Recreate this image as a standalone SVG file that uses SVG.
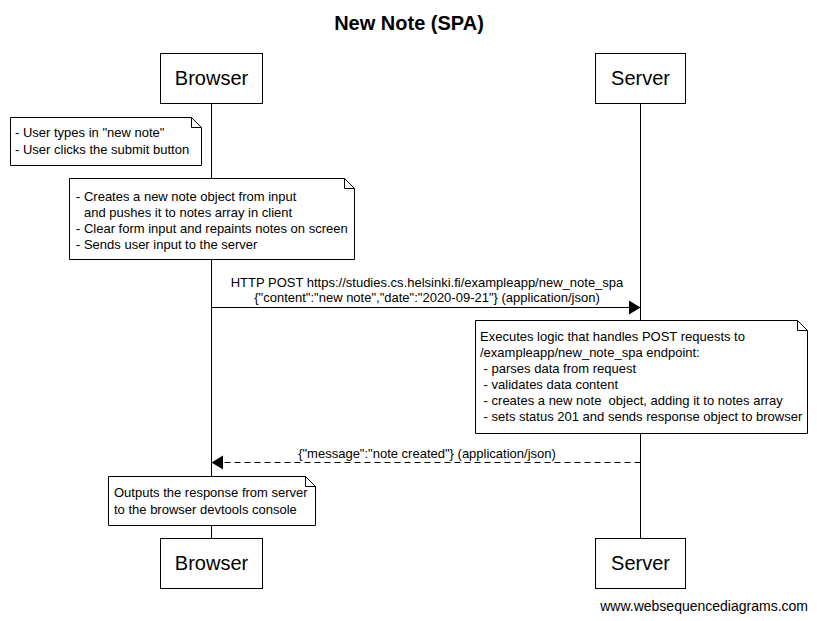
<svg xmlns="http://www.w3.org/2000/svg" width="817" height="621" viewBox="0 0 817 621">
<style>
text{font-family:"Liberation Sans",Arial,sans-serif;fill:#000}
.t{font-size:20px;font-weight:bold;text-anchor:middle}
.p{font-size:20px;text-anchor:middle}
.n{font-size:13px}
.m{font-size:13px;text-anchor:middle}
.box{fill:#fff;stroke:#000;stroke-width:1}
.life{stroke:#000;stroke-width:1}
.note{fill:#fff;stroke:#000;stroke-width:1}
.ear{fill:none;stroke:#000;stroke-width:1}
.msg{stroke:#000;stroke-width:1;fill:none}
.dash{stroke-dasharray:6,4}
</style>
<rect width="817" height="621" fill="#fff"/>
<text class="t" x="409" y="30">New Note (SPA)</text>
<g id="lifelines">
<line class="life" x1="211.5" y1="103" x2="211.5" y2="538"/>
<line class="life" x1="640.5" y1="103" x2="640.5" y2="538"/>
</g>
<g id="browser-top"><rect class="box" x="160.5" y="53.5" width="102" height="50"/><text class="p" x="211.5" y="85">Browser</text></g>
<g id="server-top"><rect class="box" x="595.5" y="53.5" width="90" height="50"/><text class="p" x="640.5" y="85">Server</text></g>
<g id="browser-bottom"><rect class="box" x="160.5" y="538.5" width="102" height="50"/><text class="p" x="211.5" y="570">Browser</text></g>
<g id="server-bottom"><rect class="box" x="595.5" y="538.5" width="90" height="50"/><text class="p" x="640.5" y="570">Server</text></g>
<g id="connectors">
<line class="msg" x1="211.5" y1="307.5" x2="632" y2="307.5"/>
<polygon points="629,300.5 640.5,307.5 629,314.5" fill="#000"/>
<text class="m" x="427" y="287">HTTP POST https://studies.cs.helsinki.fi/exampleapp/new_note_spa</text>
<text class="m" x="427" y="302">{"content":"new note","date":"2020-09-21"} (application/json)</text>
<line class="msg dash" x1="640.5" y1="462.5" x2="220" y2="462.5"/>
<polygon points="223,455.5 211.5,462.5 223,469.5" fill="#000"/>
<text class="m" x="427" y="458">{"message":"note created"} (application/json)</text>
</g>
<g id="note1">
<path class="note" d="M10.5,117.5 H191.5 L201.5,127.5 V165.5 H10.5 Z"/>
<path class="ear" d="M191.5,117.5 V127.5 H201.5"/>
<text class="n" x="15" y="137">- User types in "new note"</text>
<text class="n" x="15" y="154">- User clicks the submit button</text>
</g>
<g id="note2">
<path class="note" d="M69.5,178.5 H344.5 L354.5,188.5 V259.5 H69.5 Z"/>
<path class="ear" d="M344.5,178.5 V188.5 H354.5"/>
<text class="n" x="76" y="201">- Creates a new note object from input</text>
<text class="n" x="84" y="217">and pushes it to notes array in client</text>
<text class="n" x="76" y="233">- Clear form input and repaints notes on screen</text>
<text class="n" x="76" y="249">- Sends user input to the server</text>
</g>
<g id="note3">
<path class="note" d="M475.5,320.5 H797.5 L807.5,330.5 V433.5 H475.5 Z"/>
<path class="ear" d="M797.5,320.5 V330.5 H807.5"/>
<text class="n" x="480" y="341">Executes logic that handles POST requests to</text>
<text class="n" x="480" y="357">/exampleapp/new_note_spa endpoint:</text>
<text class="n" x="480" y="373" xml:space="preserve"> - parses data from request</text>
<text class="n" x="480" y="389" xml:space="preserve"> - validates data content</text>
<text class="n" x="480" y="405" xml:space="preserve"> - creates a new note  object, adding it to notes array</text>
<text class="n" x="480" y="421" xml:space="preserve"> - sets status 201 and sends response object to browser</text>
</g>
<g id="note4">
<path class="note" d="M108.5,476.5 H305.5 L315.5,486.5 V525.5 H108.5 Z"/>
<path class="ear" d="M305.5,476.5 V486.5 H315.5"/>
<text class="n" x="114" y="497">Outputs the response from server</text>
<text class="n" x="114" y="514">to the browser devtools console</text>
</g>
<text x="808" y="611" font-size="14" text-anchor="end">www.websequencediagrams.com</text>
</svg>
